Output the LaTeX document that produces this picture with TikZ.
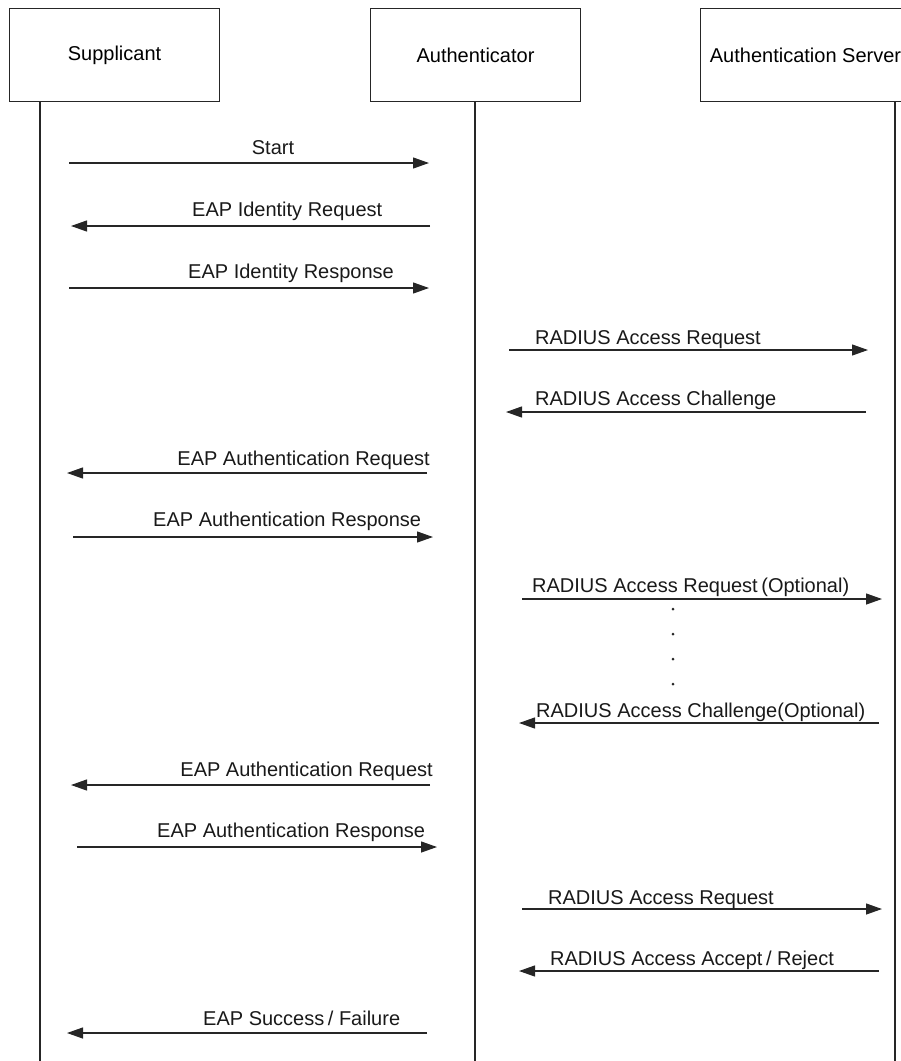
\documentclass[tikz,border=0pt]{standalone}
\usepackage{fontspec}
\setmainfont{Liberation Sans}
\usetikzlibrary{arrows.meta}
\begin{document}
\begin{tikzpicture}[x=1pt,y=-1pt,
  font=\fontsize{20}{24}\selectfont,
  actor/.style={draw=black!85,line width=1pt,minimum width=210pt,minimum height=93pt,inner sep=0pt,anchor=north west},
  life/.style={draw=black!85,line width=1.2pt},
  msg/.style={draw=black!85,line width=1.2pt,-{Triangle[length=16pt,width=11pt]}},
  lbl/.style={inner sep=0pt,text=black!90},
  dotn/.style={circle,fill=black!85,inner sep=0pt,minimum size=3pt}]
\useasboundingbox (0,0) rectangle (901,1061);
\clip (0,0) rectangle (901,1061);
% actors
\node[actor] (sup) at (9,8) {Supplicant};
\node[actor] (auth) at (370,8) {Authenticator};
\node[actor] (srv) at (700,8) {Authentication Server};
% lifelines
\coordinate (supEnd) at (40,1061);
\coordinate (authEnd) at (475,1061);
\coordinate (srvEnd) at (895,1061);
\draw[life] (sup.south -| supEnd) -- (supEnd);
\draw[life] (auth.south -| authEnd) -- (authEnd);
\draw[life] (srv.south -| srvEnd) -- (srvEnd);
% message end points
\coordinate (m1a) at (69,163);   \coordinate (m1b) at (429,163);
\coordinate (m2a) at (430,226);  \coordinate (m2b) at (71,226);
\coordinate (m3a) at (69,288);   \coordinate (m3b) at (429,288);
\coordinate (m4a) at (509,350);  \coordinate (m4b) at (868,350);
\coordinate (m5a) at (866,412);  \coordinate (m5b) at (506,412);
\coordinate (m6a) at (427,473);  \coordinate (m6b) at (67,473);
\coordinate (m7a) at (73,537);   \coordinate (m7b) at (433,537);
\coordinate (m8a) at (522,599);  \coordinate (m8b) at (882,599);
\coordinate (m9a) at (879,723);  \coordinate (m9b) at (519,723);
\coordinate (m10a) at (430,785); \coordinate (m10b) at (71,785);
\coordinate (m11a) at (77,847);  \coordinate (m11b) at (437,847);
\coordinate (m12a) at (522,909); \coordinate (m12b) at (882,909);
\coordinate (m13a) at (879,971); \coordinate (m13b) at (519,971);
\coordinate (m14a) at (427,1033);\coordinate (m14b) at (67,1033);
% messages
\foreach \i in {1,...,14}{\draw[msg] (m\i a) -- (m\i b);}
% labels
\node[lbl,anchor=base] (l1) at (273,154) {Start};
\node[lbl,anchor=base west] (l2) at (192,216) {EAP Identity Request};
\node[lbl,anchor=base west] (l3) at (188,278) {EAP Identity Response};
\node[lbl,anchor=base west] (l4) at (535,344) {RADIUS Access Request};
\node[lbl,anchor=base west] (l5) at (535,405) {RADIUS Access Challenge};
\node[lbl,anchor=base east] (l6) at (430,465) {EAP Authentication Request};
\node[lbl,anchor=base west] (l7) at (153,526) {EAP Authentication Response};
\node[lbl,anchor=base west] (l8) at (532,592) {RADIUS Access Request\hspace{-2pt} (Optional)};
\node[lbl,anchor=base west] (l9) at (536,717) {RADIUS Access Challenge(Optional)};
\node[lbl,anchor=base east] (l10) at (433,776) {EAP Authentication Request};
\node[lbl,anchor=base west] (l11) at (157,837) {EAP Authentication Response};
\node[lbl,anchor=base west] (l12) at (548,904) {RADIUS Access Request};
\node[lbl,anchor=base west] (l13) at (550,965) {RADIUS Access Accept\hspace{-2pt} / Reject};
\node[lbl,anchor=base west] (l14) at (203,1025) {EAP Success\hspace{-2pt} / Failure};
% dots
\node[dotn] (d1) at (673,609) {};
\node[dotn] (d2) at (673,634) {};
\node[dotn] (d3) at (673,659) {};
\node[dotn] (d4) at (673,684) {};
\end{tikzpicture}
\end{document}
